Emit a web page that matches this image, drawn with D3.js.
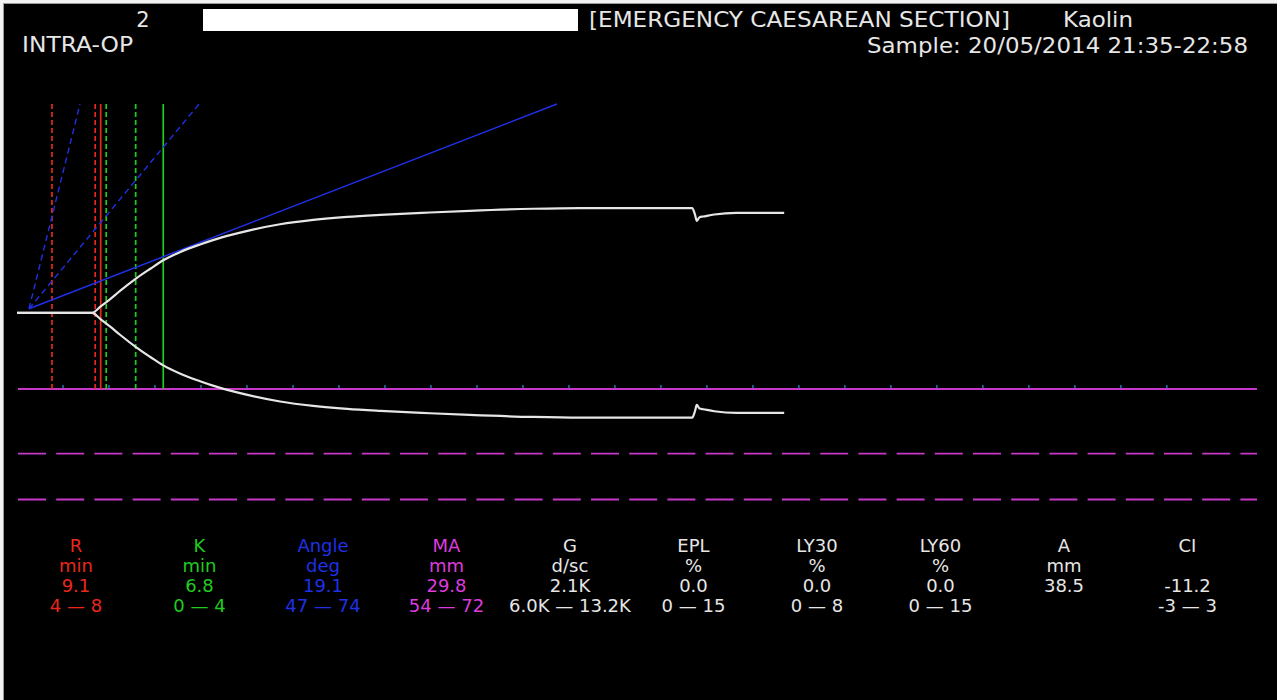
<!DOCTYPE html>
<html>
  <head>
    <title>TEG trace</title>
    <script src="https://d3js.org/d3.v7.min.js"></script>
    <style>
      body { margin: 0; background: #f2f2f2; }
      svg { display: block; }
      text { font-family: 'DejaVu Sans', sans-serif; }
    </style>
  </head>

  <body>
    <svg width="1277" height="700"></svg>

    <script>

      // trace: time (min) and full amplitude (mm)
      const traceTime = [0, 8.15, 9.1, 10.1, 11.2, 13.0, 14.5, 15.9, 17.7, 19.9, 21.3, 23.5, 25.3, 28.6,
        32.2, 35.9, 39.5, 44.9, 49.2, 56.1, 61.2, 73.4, 73.7, 73.9, 74.2, 74.6, 75.8, 78.2, 83.4];
      const traceAmp = [0, 0, 1.9, 4.0, 6.5, 10.3, 13.1, 15.6, 18.0, 20.3, 21.6, 23.3, 24.5, 26.3,
        27.6, 28.5, 29.1, 29.8, 30.3, 30.9, 31.1, 31.1, 29.2, 27.3, 28.4, 28.6, 29.2, 29.7, 29.7];

      // vertical markers (min)
      const rRange = [3.8, 8.5];
      const rTime = 9.1;
      const kRange = [9.7, 12.9];
      const kTime = 15.9;

      // angle lines: start point, end times at top of plot
      const angleStart = [1.3, 1.2];
      const angleEnd = 58.7;
      const angleRangeEnds = [6.85, 19.8];

      const tickTimes = d3.range(5, 126, 5);

      const tableNames = ['R', 'K', 'Angle', 'MA', 'G', 'EPL', 'LY30', 'LY60', 'A', 'CI'];
      const tableUnits = ['min', 'min', 'deg', 'mm', 'd/sc', '%', '%', '%', 'mm', ''];
      const tableValues = ['9.1', '6.8', '19.1', '29.8', '2.1K', '0.0', '0.0', '0.0', '38.5', '-11.2'];
      const tableRanges = ['4 \u2014 8', '0 \u2014 4', '47 \u2014 74', '54 \u2014 72', '6.0K \u2014 13.2K',
        '0 \u2014 15', '0 \u2014 8', '0 \u2014 15', '', '-3 \u2014 3'];

      const RED = '#e8281c', GREEN = '#1fcc1f', BLUE = '#1f30e6', MAG = '#c838c8', WHITE = '#e6e6e6';
      const tableColors = [RED, GREEN, BLUE, '#dd3cdd', WHITE, WHITE, WHITE, WHITE, WHITE, WHITE];

      const svg = d3.select('svg');

      svg.append('rect')
        .attr('x', 3.5).attr('y', 3.5)
        .attr('width', 1290).attr('height', 710)
        .attr('fill', '#000')
        .attr('stroke', '#9a9a9a');

      const x = d3.scaleLinear().domain([0, 134.8]).range([17, 1257]);
      // y in half-amplitude mm, baseline at 0
      const y = d3.scaleLinear().domain([-11.3, 31]).range([389, 104]);
      const yTop = 31, yBase = -11.3;

      // header
      svg.append('text').attr('x', 143).attr('y', 27).attr('text-anchor', 'middle')
        .attr('fill', WHITE).style('font-size', '21px').text('2');
      svg.append('rect').attr('x', 203).attr('y', 9).attr('width', 375).attr('height', 22).attr('fill', '#fff');
      svg.append('text').attr('x', 589).attr('y', 27).attr('textLength', 421).attr('lengthAdjust', 'spacingAndGlyphs')
        .attr('fill', WHITE).style('font-size', '21px').text('[EMERGENCY CAESAREAN SECTION]');
      svg.append('text').attr('x', 1063).attr('y', 27).attr('textLength', 70).attr('lengthAdjust', 'spacingAndGlyphs')
        .attr('fill', WHITE).style('font-size', '21px').text('Kaolin');
      svg.append('text').attr('x', 22).attr('y', 52).attr('textLength', 111).attr('lengthAdjust', 'spacingAndGlyphs')
        .attr('fill', WHITE).style('font-size', '21px').text('INTRA-OP');
      svg.append('text').attr('x', 867).attr('y', 53).attr('textLength', 381).attr('lengthAdjust', 'spacingAndGlyphs')
        .attr('fill', WHITE).style('font-size', '21px').text('Sample: 20/05/2014 21:35-22:58');

      // magenta baseline with ticks
      svg.append('line')
        .attr('x1', x(0) + 1).attr('x2', x.range()[1])
        .attr('y1', y(yBase)).attr('y2', y(yBase))
        .attr('stroke', MAG).attr('stroke-width', 1.8);

      svg.selectAll('.tick').data(tickTimes).enter().append('line')
        .attr('class', 'tick')
        .attr('x1', d => x(d)).attr('x2', d => x(d))
        .attr('y1', y(yBase) - 4).attr('y2', y(yBase) - 1)
        .attr('stroke', '#1d78b4').attr('stroke-width', 1.5);

      // dashed magenta guides
      svg.selectAll('.guide').data([-20.9, -27.7]).enter().append('line')
        .attr('class', 'guide')
        .attr('x1', x(0) + 1).attr('x2', x.range()[1])
        .attr('y1', d => y(d)).attr('y2', d => y(d))
        .attr('stroke', MAG).attr('stroke-width', 1.8)
        .attr('stroke-dasharray', '28,10.2');

      // vertical markers
      const vlines = [
        {t: rRange[0], c: RED, dash: '5,3'},
        {t: rRange[1], c: RED, dash: '5,3'},
        {t: rTime, c: RED, dash: null},
        {t: kRange[0], c: GREEN, dash: '5,3'},
        {t: kRange[1], c: GREEN, dash: '5,3'},
        {t: kTime, c: GREEN, dash: null}
      ];
      svg.selectAll('.vline').data(vlines).enter().append('line')
        .attr('class', 'vline')
        .attr('x1', d => x(d.t)).attr('x2', d => x(d.t))
        .attr('y1', y(yTop)).attr('y2', y(yBase))
        .attr('stroke', d => d.c).attr('stroke-width', 1.7)
        .attr('stroke-dasharray', d => d.dash);

      // angle lines
      svg.selectAll('.angle-range').data(angleRangeEnds).enter().append('line')
        .attr('class', 'angle-range')
        .attr('x1', x(angleStart[0])).attr('y1', y(angleStart[1] / 2))
        .attr('x2', d => x(d)).attr('y2', y(yTop))
        .attr('stroke', BLUE).attr('stroke-width', 1.4)
        .attr('stroke-dasharray', '6,4');

      svg.append('line')
        .attr('x1', x(angleStart[0])).attr('y1', y(angleStart[1] / 2))
        .attr('x2', x(angleEnd)).attr('y2', y(yTop))
        .attr('stroke', BLUE).attr('stroke-width', 1.5);

      // trace (upper and lower halves)
      const pts = traceTime.map((t, i) => [t, traceAmp[i]]);
      const upper = d3.line().x(d => x(d[0])).y(d => y(d[1] / 2)).curve(d3.curveMonotoneX);
      const lower = d3.line().x(d => x(d[0])).y(d => y(-d[1] / 2)).curve(d3.curveMonotoneX);

      svg.append('path').attr('d', upper(pts))
        .attr('fill', 'none').attr('stroke', WHITE).attr('stroke-width', 2.2);
      svg.append('path').attr('d', lower(pts))
        .attr('fill', 'none').attr('stroke', WHITE).attr('stroke-width', 2.2);

      // parameter table
      const col = d3.scalePoint().domain(tableNames).range([76, 1187.5]);
      const rows = [tableNames, tableUnits, tableValues, tableRanges];
      const rowY = [552, 572, 592, 612];

      rows.forEach((row, r) => {
        svg.selectAll('.row' + r).data(row).enter().append('text')
          .attr('class', 'row' + r)
          .attr('x', (d, i) => col(tableNames[i]))
          .attr('y', rowY[r])
          .attr('text-anchor', 'middle')
          .attr('fill', (d, i) => tableColors[i])
          .style('font-size', '18px')
          .text(d => d);
      });

    </script>
  </body>
</html>
